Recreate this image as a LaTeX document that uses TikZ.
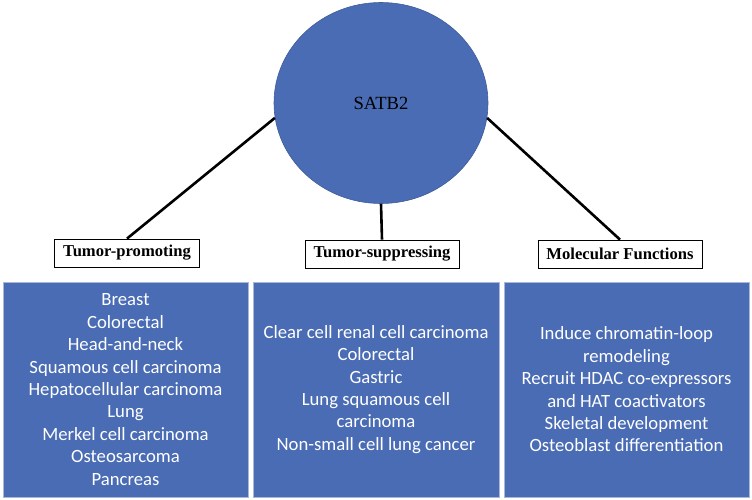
\documentclass[tikz,border=0pt]{standalone}
\usepackage{fontspec}
\setmainfont{Liberation Serif}
\newfontfamily\boxfont{Carlito}
\usetikzlibrary{positioning,shapes.geometric}
\definecolor{satblue}{HTML}{4A6CB4}
\definecolor{edgeblue}{HTML}{A9B8D8}

\begin{document}
\begin{tikzpicture}[x=1pt,y=-1pt,
		hub/.style={ellipse,fill=satblue,draw=satblue!85!black,line width=0.6pt,minimum width=214pt,minimum height=201pt,inner sep=0pt,font=\fontsize{18.6}{20}\selectfont},
		tag/.style={draw,line width=0.8pt,inner sep=0pt,minimum height=28pt,font=\bfseries\fontsize{16.6}{18}\selectfont},
		listbox/.style={fill=satblue,draw=edgeblue,line width=0.8pt,minimum height=215pt,inner sep=0pt,text=white,align=center,font=\boxfont\fontsize{18.7}{22.4}\selectfont},
		link/.style={line width=2.6pt}]
			\useasboundingbox (0,0) rectangle (752,500);
			\node[hub] at (381,103) (satb) {SATB2};
			\node[tag,minimum width=145pt] at (127,253) (tp) {Tumor-promoting};
			\node[tag,minimum width=154pt] at (382,254) (ts) {Tumor-suppressing};
			\node[tag,minimum width=164pt] at (620,254) (mf) {Molecular Functions};
			\node[listbox,minimum width=245pt] at (125.5,389.5) (tplist) {Breast\\Colorectal\\Head-and-neck\\Squamous cell carcinoma\\Hepatocellular carcinoma\\Lung\\Merkel cell carcinoma\\Osteosarcoma\\Pancreas};
			\node[listbox,minimum width=246pt] at (376,389.5) (tslist) {Clear cell renal cell carcinoma\\Colorectal\\Gastric\\Lung squamous cell\\carcinoma\\Non-small cell lung cancer};
			\node[listbox,minimum width=245pt] at (626.5,389.5) (mflist) {Induce chromatin-loop\\remodeling\\Recruit HDAC co-expressors\\and HAT coactivators\\Skeletal development\\Osteoblast differentiation};
			\draw[link] (satb.188) -- (tp.north);
			\draw[link] (satb.south) -- (ts.north);
			\draw[link] (satb.-8) -- (mf.north);
		\end{tikzpicture}
\end{document}
